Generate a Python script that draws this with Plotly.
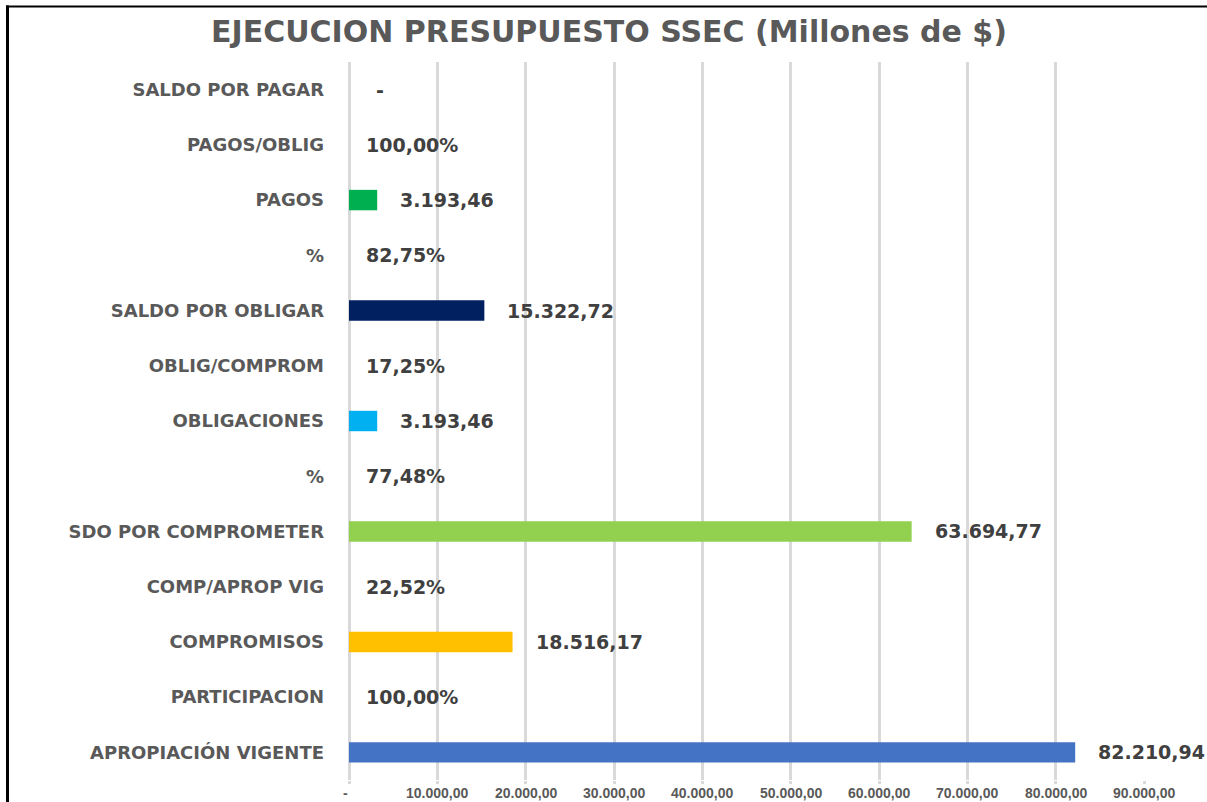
import plotly.graph_objects as go

# Data (bottom to top)
categories = ["APROPIACIÓN VIGENTE", "PARTICIPACION", "COMPROMISOS", "COMP/APROP VIG",
              "SDO POR COMPROMETER", "%", "OBLIGACIONES", "OBLIG/COMPROM",
              "SALDO POR OBLIGAR", "%", "PAGOS", "PAGOS/OBLIG", "SALDO POR PAGAR"]
values = [82210.94, 1.0, 18516.17, 0.2252, 63694.77, 0.7748, 3193.46, 0.1725,
          15322.72, 0.8275, 3193.46, 1.0, 0.0]
value_labels = ["82.210,94", "100,00%", "18.516,17", "22,52%", "63.694,77", "77,48%",
                "3.193,46", "17,25%", "15.322,72", "82,75%", "3.193,46", "100,00%", "-"]
is_percent = [False, True, False, True, False, True, False, True, False, True, False, True, False]
bar_colors = ["#4472C4", "rgba(0,0,0,0)", "#FFC000", "rgba(0,0,0,0)", "#92D050", "rgba(0,0,0,0)",
              "#00B0F0", "rgba(0,0,0,0)", "#002060", "rgba(0,0,0,0)", "#00B050", "rgba(0,0,0,0)",
              "rgba(0,0,0,0)"]
x_tickvals = [0, 10000, 20000, 30000, 40000, 50000, 60000, 70000, 80000, 90000]
x_ticktext = ["-", "10.000,00", "20.000,00", "30.000,00", "40.000,00", "50.000,00",
              "60.000,00", "70.000,00", "80.000,00", "90.000,00"]
title_text = "EJECUCION PRESUPUESTO SSEC (Millones de $)"

ypos = list(range(len(categories)))

fig = go.Figure()
fig.add_trace(go.Bar(
    x=values, y=ypos, orientation="h",
    marker=dict(color=bar_colors, line=dict(width=0)),
    width=0.37, hoverinfo="skip", showlegend=False,
))

annotations = []
for v, yv, lab, pct in zip(values, ypos, value_labels, is_percent):
    if lab == "-":
        shift = 25
    elif pct:
        shift = 15
    else:
        shift = 21
    annotations.append(dict(
        x=v, y=yv, xref="x", yref="y", text=lab, showarrow=False,
        xanchor="left", yanchor="middle", xshift=shift,
        font=dict(family="DejaVu Sans", size=19, color="#404040", weight="bold"),
    ))

# x tick labels placed just under the axis (drawn from the tick values)
for tv, tt in zip(x_tickvals, x_ticktext):
    annotations.append(dict(
        x=tv, y=0, xref="x", yref="paper", text=tt, showarrow=False,
        xanchor="center", yanchor="top", yshift=-3, xshift=-4 if tt == "-" else 0,
        font=dict(family="Liberation Sans", size=14, color="#595959", weight="bold"),
    ))

FW, FH = 1207, 802
L = 349
R = FW - 1144
T = 62
B = FH - 780
pw = FW - L - R
ph = FH - T - B

def px(x):
    return (x - L) / pw
def py(y):
    return (FH - B - y) / ph

shapes = [
    dict(type="line", xref="paper", yref="paper", x0=px(7.5), x1=px(7.5), y0=py(5.5), y1=py(810),
         line=dict(color="black", width=3)),
    dict(type="line", xref="paper", yref="paper", x0=px(6), x1=px(FW + 5), y0=py(6.5), y1=py(6.5),
         line=dict(color="black", width=2)),
]

fig.update_layout(
    width=FW, height=FH,
    margin=dict(l=L, r=R, t=T, b=B, pad=0),
    paper_bgcolor="white", plot_bgcolor="white",
    title=dict(text=title_text, x=609 / FW, xref="container", xanchor="center",
               y=1 - 31 / FH, yref="container", yanchor="middle",
               font=dict(family="DejaVu Sans", size=30, color="#595959", weight="bold")),
    xaxis=dict(range=[0, 90000], tickvals=x_tickvals, showticklabels=False,
               showgrid=True, gridcolor="#D9D9D9", gridwidth=2.5,
               zeroline=True, zerolinecolor="#D9D9D9", zerolinewidth=2.5,
               ticks="outside", ticklen=3, tickcolor="#D9D9D9", tickwidth=2.5,
               showline=False, fixedrange=True, automargin=False),
    yaxis=dict(range=[-0.5, len(categories) - 0.5], tickvals=ypos, ticktext=categories,
               showgrid=False, zeroline=False, showline=False, ticks="",
               ticklabelstandoff=24, fixedrange=True, automargin=False,
               tickfont=dict(family="DejaVu Sans", size=18, color="#595959", weight="bold")),
    bargap=0.63,
    annotations=annotations,
    shapes=shapes,
)

post = ("document.body.style.margin='0';document.body.style.padding='0';"
        "document.body.style.overflow='hidden';document.documentElement.style.overflow='hidden';")
fig.write_html("out.html", post_script=post, config={"displayModeBar": False})
